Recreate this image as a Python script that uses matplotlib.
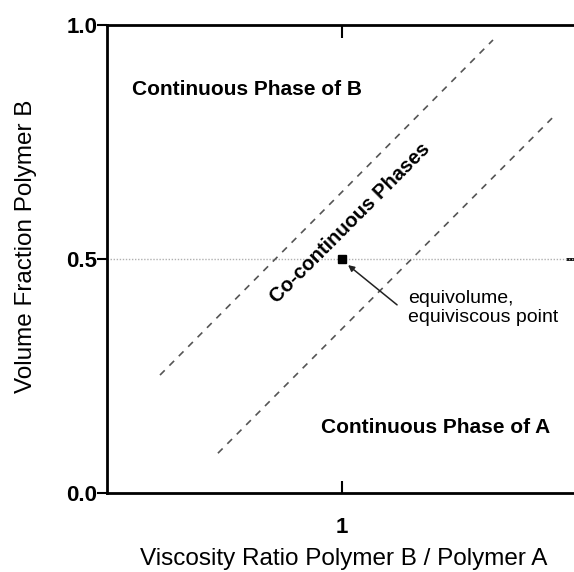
import matplotlib
matplotlib.use("Agg")
import matplotlib.pyplot as plt

plt.rcParams['font.family'] = ['Liberation Sans', 'DejaVu Sans']

# Data
upper_boundary_x = [0.226, 1.646]
upper_boundary_y = [0.252, 0.968]
lower_boundary_x = [0.473, 1.898]
lower_boundary_y = [0.085, 0.801]
equi_point_x = [1.0]
equi_point_y = [0.5]
x_ticks = [1.0]
x_tick_labels = ["1"]
y_ticks = [0.0, 0.5, 1.0]
y_tick_labels = ["0.0", "0.5", "1.0"]

W, H = 574, 572
fig = plt.figure(figsize=(W / 100, H / 100), dpi=100)
ax_left, ax_right, ax_top, ax_bottom = 107, 576, 25, 493
ax = fig.add_axes([ax_left / W, 1 - ax_bottom / H, (ax_right - ax_left) / W, (ax_bottom - ax_top) / H])
ax.set_xlim(0, 2)
ax.set_ylim(0, 1)

for s in ax.spines.values():
    s.set_linewidth(2.0)
    s.set_color('black')

# horizontal dotted reference line
ax.axhline(0.5, color='#b0b0b0', linestyle=(0, (1, 1.2)), linewidth=1.0, zorder=1)

# boundaries
ax.plot(upper_boundary_x, upper_boundary_y, color='#555555', linestyle=(0, (4, 4)), linewidth=1.2)
ax.plot(lower_boundary_x, lower_boundary_y, color='#555555', linestyle=(0, (4, 4)), linewidth=1.2)

# point
ax.plot(equi_point_x, equi_point_y, marker='s', color='black', markersize=5.5, linestyle='none', zorder=5)

ax.annotate("", xy=(1.028, 0.487), xytext=(1.237, 0.402),
            arrowprops=dict(arrowstyle='-|>', color='#222222', lw=1.1, mutation_scale=9,
                            shrinkA=0, shrinkB=0))
ax.text(1.285, 0.396, "equivolume,\nequiviscous point", fontsize=14, ha='left', va='center',
        linespacing=1.18)

ax.text(0.597, 0.862, "Continuous Phase of B", fontsize=15, fontweight='bold', ha='center', va='center')
ax.text(1.402, 0.139, "Continuous Phase of A", fontsize=15, fontweight='bold', ha='center', va='center')
ax.text(1.037, 0.576, "Co-continuous Phases", fontsize=14.5, fontweight='bold', ha='center', va='center',
        rotation=45, rotation_mode='anchor')

ax.set_xticks(x_ticks)
ax.set_xticklabels(x_tick_labels, fontsize=16, fontweight='bold')
ax.set_yticks(y_ticks)
ax.set_yticklabels(y_tick_labels, fontsize=16, fontweight='bold')
ax.tick_params(axis='x', direction='in', length=9, width=1.5, top=True, pad=17)
ax.tick_params(axis='y', direction='out', length=7, width=1.5, pad=0)

sec = ax.secondary_yaxis('right')
sec.set_yticks([0.5])
sec.set_yticklabels([""])
sec.tick_params(direction='in', length=7, width=2)
sec.spines['right'].set_linewidth(2.0)

ax.set_xlabel("Viscosity Ratio Polymer B / Polymer A", fontsize=17.5, va='center')
ax.set_ylabel("Volume Fraction Polymer B", fontsize=17.5, va='center')
ax.xaxis.set_label_coords(0.505, -0.14)
ax.yaxis.set_label_coords(-0.172, 0.528)

fig.savefig("out.png", dpi=100)
